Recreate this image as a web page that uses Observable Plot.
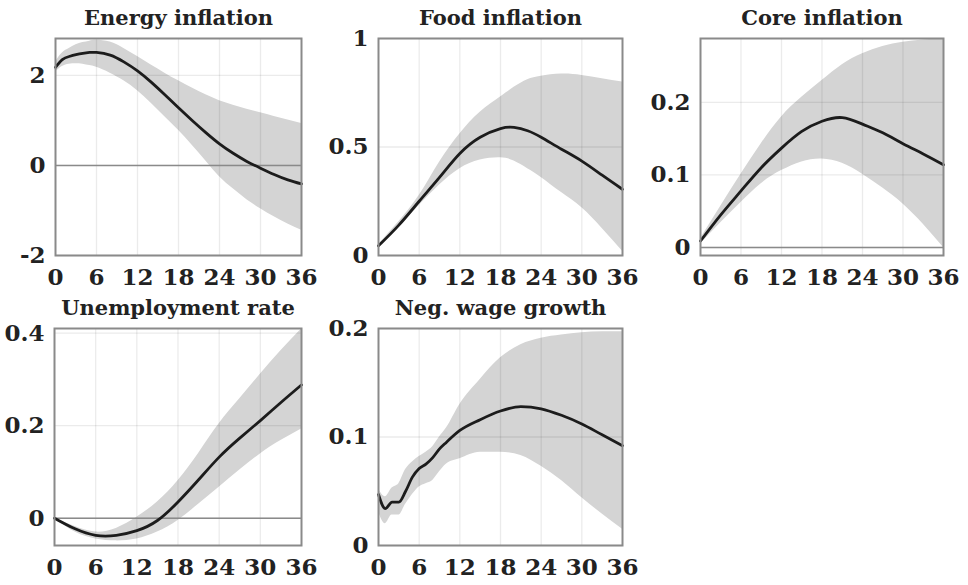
<!DOCTYPE html>
<html>
<head>
<meta charset="utf-8">
<script src="https://cdn.jsdelivr.net/npm/d3@7"></script>
<script src="https://cdn.jsdelivr.net/npm/@observablehq/plot@0.6"></script>
<style>
  html, body { margin: 0; padding: 0; background: #fff; }
  #chart { position: relative; width: 968px; height: 585px; overflow: hidden; }
  #chart svg { position: absolute; overflow: visible; }
</style>
</head>
<body>
<div id="chart"></div>
<script>
// ---------- data ----------
const xTicks = [0, 6, 12, 18, 24, 30, 36];

// Energy inflation
const energyT     = [0, 1, 2, 3, 4, 5, 6, 8, 10, 12, 14, 16, 18, 20, 22, 24, 26, 28, 30, 32, 34, 36];
const energyMean  = [2.18, 2.35, 2.42, 2.46, 2.49, 2.51, 2.51, 2.45, 2.30, 2.10, 1.85, 1.57, 1.28, 1.00, 0.73, 0.48, 0.27, 0.09, -0.06, -0.20, -0.32, -0.41];
const energyUpper = [2.30, 2.50, 2.60, 2.68, 2.73, 2.76, 2.78, 2.74, 2.60, 2.42, 2.23, 2.05, 1.88, 1.72, 1.57, 1.44, 1.34, 1.25, 1.17, 1.09, 1.01, 0.93];
const energyLower = [2.08, 2.20, 2.25, 2.26, 2.25, 2.22, 2.18, 2.05, 1.88, 1.66, 1.38, 1.08, 0.78, 0.45, 0.10, -0.25, -0.52, -0.76, -0.96, -1.14, -1.30, -1.44];
const energyYTicks = [-2, 0, 2];

// Food inflation
const foodT     = [0, 3, 6, 9, 12, 15, 18, 20, 22, 24, 27, 30, 33, 36];
const foodMean  = [0.045, 0.14, 0.25, 0.36, 0.47, 0.545, 0.585, 0.59, 0.575, 0.545, 0.49, 0.435, 0.37, 0.305];
const foodUpper = [0.05, 0.155, 0.276, 0.43, 0.56, 0.66, 0.73, 0.775, 0.81, 0.826, 0.836, 0.83, 0.815, 0.80];
const foodLower = [0.04, 0.13, 0.23, 0.325, 0.40, 0.44, 0.45, 0.435, 0.40, 0.36, 0.29, 0.22, 0.125, 0.02];
const foodYTicks = [0, 0.5, 1];

// Core inflation
const coreT     = [0, 3, 6, 9, 12, 15, 18, 21, 24, 27, 30, 33, 36];
const coreMean  = [0.009, 0.045, 0.078, 0.110, 0.137, 0.160, 0.174, 0.179, 0.170, 0.158, 0.143, 0.129, 0.114];
const coreUpper = [0.012, 0.057, 0.101, 0.143, 0.180, 0.207, 0.230, 0.252, 0.267, 0.277, 0.283, 0.286, 0.288];
const coreLower = [0.005, 0.034, 0.062, 0.088, 0.106, 0.118, 0.122, 0.116, 0.101, 0.082, 0.060, 0.032, 0.000];
const coreYTicks = [0, 0.1, 0.2];

// Unemployment rate
const unempT     = [0, 3, 6, 9, 12, 15, 18, 21, 24, 27, 30, 33, 36];
const unempMean  = [0.000, -0.023, -0.037, -0.037, -0.027, -0.005, 0.035, 0.083, 0.132, 0.173, 0.211, 0.250, 0.288];
const unempUpper = [0.000, -0.018, -0.030, -0.022, 0.002, 0.035, 0.081, 0.140, 0.204, 0.258, 0.311, 0.362, 0.409];
const unempLower = [0.000, -0.030, -0.045, -0.049, -0.045, -0.030, -0.005, 0.030, 0.067, 0.104, 0.139, 0.168, 0.193];
const unempYTicks = [0, 0.2, 0.4];

// Neg. wage growth
const wageT     = [0, 1, 2, 3, 4, 5, 6, 7, 8, 9, 10, 12, 15, 18, 21, 24, 27, 30, 33, 36];
const wageMean  = [0.047, 0.034, 0.040, 0.040, 0.050, 0.063, 0.071, 0.075, 0.081, 0.089, 0.095, 0.106, 0.116, 0.124, 0.128, 0.126, 0.120, 0.112, 0.102, 0.092];
const wageUpper = [0.052, 0.045, 0.053, 0.057, 0.070, 0.077, 0.082, 0.086, 0.091, 0.100, 0.108, 0.130, 0.153, 0.173, 0.185, 0.191, 0.194, 0.196, 0.197, 0.197];
const wageLower = [0.031, 0.020, 0.028, 0.028, 0.038, 0.047, 0.054, 0.057, 0.060, 0.068, 0.075, 0.080, 0.086, 0.086, 0.083, 0.073, 0.060, 0.044, 0.029, 0.015];
const wageYTicks = [0, 0.1, 0.2];

// ---------- drawing ----------
const FONT = "'DejaVu Serif', 'Liberation Serif', serif";

function table(t, m, u, l) {
  return t.map((d, i) => ({t: d, m: m[i], hi: u[i], lo: l[i]}));
}

function panel(cfg) {
  const data = table(cfg.t, cfg.mean, cfg.upper, cfg.lower);
  const marks = [
    Plot.areaY(data, {x: "t", y1: "lo", y2: "hi", fill: "#d4d4d4", curve: cfg.curve || "natural"}),
    Plot.gridX(xTicks.slice(1, -1), {stroke: "#000", strokeOpacity: 0.08, strokeWidth: 1.3}),
    Plot.gridY(cfg.yTicks, {stroke: "#000", strokeOpacity: 0.08, strokeWidth: 1.3}),
  ];
  if (cfg.zero) marks.push(Plot.ruleY([0], {stroke: "#8a8a8a", strokeWidth: 1.6}));
  marks.push(
    Plot.lineY(data, {x: "t", y: "m", stroke: "#1c1c1c", strokeWidth: 2.8, curve: cfg.curve || "natural"}),
    Plot.frame({stroke: "#8a8a8a", strokeWidth: 2}),
    Plot.axisX(xTicks, {label: null, tickSize: 0, tickPadding: 13, fontSize: 23, fontWeight: "bold", fill: "#222", tickFormat: d => String(d)}),
    Plot.axisY(cfg.yTicks, {label: null, tickSize: 0, tickPadding: 10, fontSize: 23, fontWeight: "bold", fill: "#222", tickFormat: d => String(d)}),
    Plot.text([cfg.title], {frameAnchor: "top", dy: -20, text: d => d, fontSize: 21, fontWeight: "bold", fill: "#222", lineAnchor: "middle"})
  );
  const svg = Plot.plot({
    width: cfg.width,
    height: cfg.height,
    marginLeft: cfg.ml,
    marginRight: cfg.mr,
    marginTop: cfg.mt,
    marginBottom: cfg.mb,
    style: {fontFamily: FONT, background: "transparent", overflow: "visible"},
    x: {domain: [0, 36], axis: null},
    y: {domain: cfg.yDomain, axis: null},
    marks
  });
  svg.style.left = cfg.left + "px";
  svg.style.top = cfg.top + "px";
  document.getElementById("chart").appendChild(svg);
}

panel({title: "Energy inflation", t: energyT, mean: energyMean, upper: energyUpper, lower: energyLower,
  yTicks: energyYTicks, yDomain: [-2, 2.82], zero: true,
  left: 0, top: 0, width: 320, height: 290, ml: 55, mr: 19, mt: 38, mb: 35});

panel({title: "Food inflation", t: foodT, mean: foodMean, upper: foodUpper, lower: foodLower,
  yTicks: foodYTicks, yDomain: [0, 1], zero: false,
  left: 320, top: 0, width: 320, height: 290, ml: 58, mr: 18, mt: 38, mb: 35});

panel({title: "Core inflation", t: coreT, mean: coreMean, upper: coreUpper, lower: coreLower,
  yTicks: coreYTicks, yDomain: [-0.011, 0.288], zero: true,
  left: 640, top: 0, width: 328, height: 290, ml: 60, mr: 25, mt: 38, mb: 35});

panel({title: "Unemployment rate", t: unempT, mean: unempMean, upper: unempUpper, lower: unempLower,
  yTicks: unempYTicks, yDomain: [-0.059, 0.41], zero: true,
  left: 0, top: 290, width: 320, height: 295, ml: 54, mr: 19, mt: 38, mb: 40});

panel({title: "Neg. wage growth", t: wageT, mean: wageMean, upper: wageUpper, lower: wageLower,
  yTicks: wageYTicks, yDomain: [0, 0.2], zero: false, curve: "monotone-x",
  left: 320, top: 290, width: 320, height: 295, ml: 58, mr: 18, mt: 38, mb: 40});
</script>
</body>
</html>
